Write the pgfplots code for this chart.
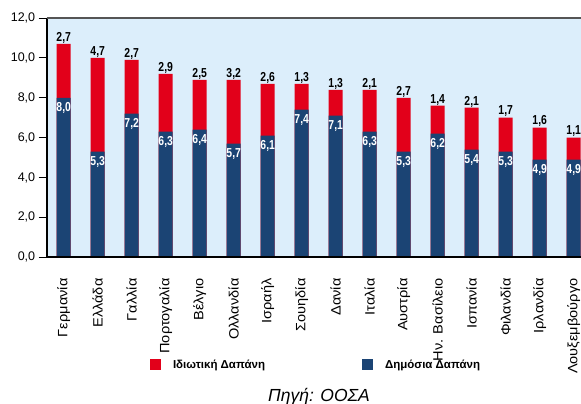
\documentclass[border=0pt]{standalone}
\usepackage{fontspec}
\setmainfont{Liberation Sans}
\newfontfamily\narrowfont[FakeStretch=0.8]{Liberation Sans}
\newfontfamily\widefont[FakeStretch=1.08]{Liberation Sans}
\usepackage{pgfplots}
\pgfplotsset{compat=1.18}
\usepackage{pgfplotstable}

\definecolor{pubblue}{HTML}{1B4474}
\definecolor{privred}{HTML}{E2001A}
\definecolor{panel}{HTML}{DCEEFB}
\definecolor{frame}{HTML}{555555}

% Health spending as % of GDP: public and private part per country
\pgfplotstableread{
x pub priv
0  8.0 2.7
1  5.3 4.7
2  7.2 2.7
3  6.3 2.9
4  6.4 2.5
5  5.7 3.2
6  6.1 2.6
7  7.4 1.3
8  7.1 1.3
9  6.3 2.1
10 5.3 2.7
11 6.2 1.4
12 5.4 2.1
13 5.3 1.7
14 4.9 1.6
15 4.9 1.1
}\spending

\begin{document}
\begin{tikzpicture}
\begin{axis}[
  name=ax,
  scale only axis,
  width=544pt, height=239.3pt,
  xmin=-0.5, xmax=15.5, ymin=0, ymax=12,
  enlargelimits=false,
  clip=false,
  ybar, bar width=14pt, bar shift=0pt,
  axis background/.style={fill=panel},
  axis line style={draw=none},
  tick align=outside,
  major tick length=8pt,
  minor tick length=8pt,
  ytick={0,2,...,12},
  ytick style={black, line width=0.8pt},
  xtick={0,...,15},
  xtick style={draw=none},
  minor xtick={-0.5,0.5,...,15.5},
  minor x tick style={black, line width=0.8pt},
  xticklabels={Γερμανία,Ελλάδα,Γαλλία,Πορτογαλία,Βέλγιο,Ολλανδία,Ισραήλ,Σουηδία,Δανία,Ιταλία,Αυστρία,Ην. Βασίλειο,Ισπανία,Φιλανδία,Ιρλανδία,Λουξεμβούργο},
  xticklabel shift=13pt,
  x tick label style={rotate=90, anchor=east, inner sep=0pt, font=\widefont\fontsize{13.5}{15}\selectfont},
  y tick label style={font=\fontsize{12.5}{13}\selectfont},
  /pgf/number format/.cd, use comma, fixed, fixed zerofill, precision=1, assume math mode=true,
  /pgfplots/.cd,
  legend columns=2,
  legend image code/.code={\fill[#1, draw=none] (0pt,-5.5pt) rectangle (11pt,5.5pt);},
  legend style={draw=none, fill=none, inner sep=0pt, outer sep=0pt,
    at={(axis description cs:0,0)}, anchor=west, xshift=103.3pt, yshift=-107.3pt,
    font=\bfseries\fontsize{11.5}{13}\selectfont,
    nodes={inner sep=0pt},
    /tikz/every even column/.append style={column sep=97pt}},
]
% private part sits on top of the public part
\addplot[fill=privred, draw=none, point meta=\thisrow{priv},
  nodes near coords,
  every node near coord/.append style={anchor=south, inner sep=0pt, yshift=0.5pt,
    text=black, font=\narrowfont\bfseries\fontsize{13}{13}\selectfont}]
  table[x=x, y expr=\thisrow{pub}+\thisrow{priv}] {\spending};
\addplot[fill=pubblue, draw=none, point meta=\thisrow{pub},
  nodes near coords,
  every node near coord/.append style={anchor=north, inner sep=0pt, yshift=-4.5pt,
    text=white, font=\narrowfont\bfseries\fontsize{13}{13}\selectfont}]
  table[x=x, y=pub] {\spending};
\legend{\hspace{12pt}Ιδιωτική Δαπάνη, \hspace{12pt}Δημόσια Δαπάνη}
\end{axis}
% frame: dark left and bottom lines, grey top line
\draw[black, line width=2pt] (ax.north west) -- (ax.south west) -- (ax.south east);
\draw[frame, line width=1.5pt] (ax.north west) -- (ax.north east);
\node[anchor=base, font=\itshape\fontsize{17.5}{19}\selectfont]
  at ([shift={(272.3pt,-144.4pt)}]ax.south west) {Πηγή: ΟΟΣΑ};
\pgfresetboundingbox
\useasboundingbox ([shift={(-46.7pt,-146.7pt)}]ax.south west)
  rectangle ([shift={(534.3pt,18pt)}]ax.north west);
\end{tikzpicture}
\end{document}
